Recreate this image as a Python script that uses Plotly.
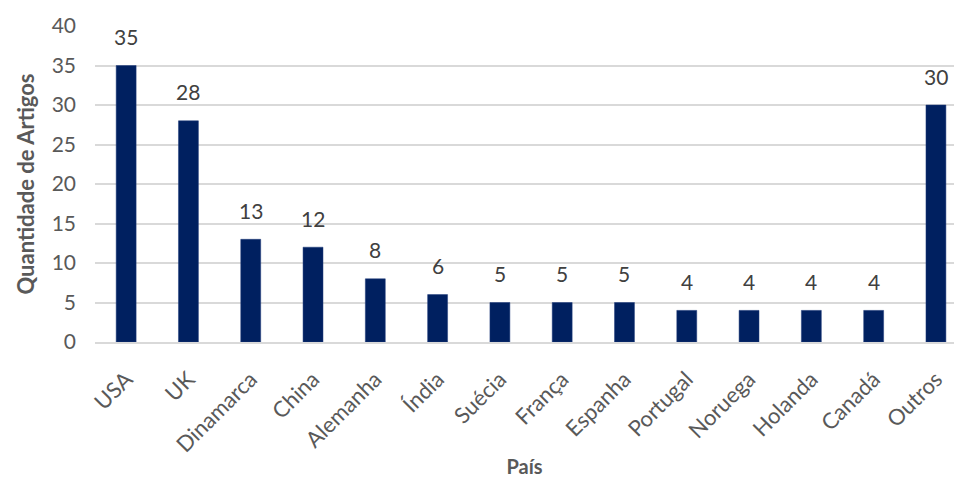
import plotly.graph_objects as go

paises = ["USA", "UK", "Dinamarca", "China", "Alemanha", "Índia", "Suécia", "França",
          "Espanha", "Portugal", "Noruega", "Holanda", "Canadá", "Outros"]
artigos = [35, 28, 13, 12, 8, 6, 5, 5, 5, 4, 4, 4, 4, 30]
y_ticks = [0, 5, 10, 15, 20, 25, 30, 35, 40]

FONT = "Lato"
GRAY = "#595959"

fig = go.Figure(go.Bar(
    x=paises, y=artigos,
    marker=dict(color="#002060", line=dict(color="#1f3a7a", width=0.5)),
    width=0.32,
))

for p, v in zip(paises, artigos):
    fig.add_annotation(x=p, y=v, text=str(v), showarrow=False,
                       yanchor="middle", yshift=29,
                       font=dict(family=FONT, size=21, color="#404040"))

fig.update_layout(
    width=954, height=478,
    margin=dict(l=95, r=0, t=26, b=136),
    plot_bgcolor="white", paper_bgcolor="white",
    showlegend=False,
    xaxis=dict(
        range=[-0.5, 13.29],
        tickangle=-45,
        tickfont=dict(family=FONT, size=22, color=GRAY),
        ticklabelstandoff=14,
        title=dict(text="<b>País</b>", font=dict(family=FONT, size=20, color=GRAY), standoff=6),
        showgrid=False, showline=True, linecolor="#d9d9d9", linewidth=1.5,
        ticks="",
    ),
    yaxis=dict(
        range=[0, 40],
        tickvals=y_ticks,
        tickfont=dict(family=FONT, size=21, color=GRAY),
        ticklabelstandoff=18,
        title=dict(text="<b>Quantidade de Artigos</b>", font=dict(family=FONT, size=22, color=GRAY), standoff=10),
        showgrid=True, gridcolor="#d9d9d9", gridwidth=1.5,
        zeroline=False, ticks="", ticklen=0,
    ),
)

fig.write_html("out.html")
